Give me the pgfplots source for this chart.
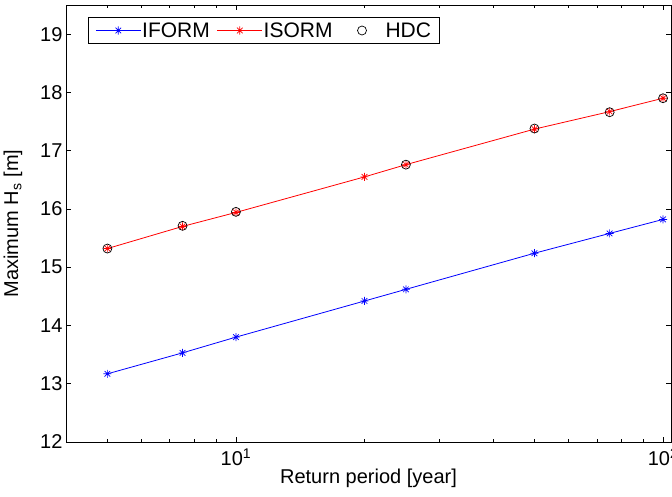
\documentclass[border=0pt]{standalone}
\usepackage{fontspec}
\setmainfont{Liberation Sans}
\usepackage{pgfplots}
\pgfplotsset{compat=1.18}
\pgfdeclareplotmark{mstar}{%
 \pgfpathmoveto{\pgfqpoint{-\pgfplotmarksize}{0pt}}\pgfpathlineto{\pgfqpoint{\pgfplotmarksize}{0pt}}%
 \pgfpathmoveto{\pgfqpoint{0pt}{-\pgfplotmarksize}}\pgfpathlineto{\pgfqpoint{0pt}{\pgfplotmarksize}}%
 \pgfpathmoveto{\pgfqpoint{-0.707\pgfplotmarksize}{-0.707\pgfplotmarksize}}\pgfpathlineto{\pgfqpoint{0.707\pgfplotmarksize}{0.707\pgfplotmarksize}}%
 \pgfpathmoveto{\pgfqpoint{-0.707\pgfplotmarksize}{0.707\pgfplotmarksize}}\pgfpathlineto{\pgfqpoint{0.707\pgfplotmarksize}{-0.707\pgfplotmarksize}}%
 \pgfusepathqstroke}
\begin{document}
\begin{tikzpicture}[font=\fontsize{20bp}{24bp}\selectfont]
\begin{axis}[
  scale only axis, width=605bp, height=437bp,
  xmode=log, log basis x=10,
  xmin=4, xmax=104.4, ymin=12, ymax=19.5,
  xtick={10,100}, xticklabels={10\textsuperscript{1},10\textsuperscript{2}},
  minor xtick={4,5,6,7,8,9,20,30,40,50,60,70,80,90},
  ytick={12,13,14,15,16,17,18,19},
  /pgf/number format/assume math mode=true,
  tick align=inside,
  major tick length=5bp, minor tick length=3bp,
  axis line style={line width=0.9bp},
  every tick/.style={black, line width=0.6bp},
  xlabel={Return period [year]},
  ylabel={Maximum H\textsubscript{s} [m]},
  xticklabel style={yshift=-3bp},
  xlabel style={yshift=4bp},
  ylabel style={yshift=11bp},
  legend columns=3,
  legend style={at={(axis description cs:0.0364,0.9725)}, anchor=north west,
    draw=black, line width=0.8bp, inner xsep=7bp, inner ysep=2bp,
    font=\fontsize{21bp}{25bp}\selectfont,
    nodes={inner xsep=1bp, inner ysep=3bp},
    /tikz/every even column/.append style={column sep=6bp}},
]
\addplot[blue, line width=0.8bp, mark=mstar, mark size=4bp, mark options={line width=0.7bp},
  legend image code/.code={\draw[mark repeat=2,mark phase=2] plot coordinates {(0bp,0bp) (22.5bp,0bp) (45bp,0bp)};}] coordinates {
 (5,13.17) (7.5,13.53) (10,13.80) (20,14.42) (25,14.62) (50,15.24) (75,15.58) (100,15.82)};
\addlegendentry{IFORM}
\addplot[red, line width=0.8bp, mark=mstar, mark size=4bp, mark options={line width=0.7bp},
  legend image code/.code={\draw[mark repeat=2,mark phase=2] plot coordinates {(0bp,0bp) (22.5bp,0bp) (45bp,0bp)};}] coordinates {
 (5,15.32) (7.5,15.70) (10,15.94) (20,16.55) (25,16.76) (50,17.37) (75,17.67) (100,17.90)};
\addlegendentry{ISORM}
\addplot[black, only marks, mark=o, mark size=4.5bp, mark options={line width=0.7bp},
  legend image code/.code={\path[draw=none] (0bp,0bp) (45bp,0bp); \draw[only marks] plot coordinates {(22.5bp,0bp)};}] coordinates {
 (5,15.32) (7.5,15.71) (10,15.95) (25,16.76) (50,17.38) (75,17.66) (100,17.90)};
\addlegendentry{HDC}
\end{axis}
\pgfresetboundingbox
\path[use as bounding box] (-66bp,-55bp) rectangle (606bp,442bp);
\end{tikzpicture}
\end{document}
